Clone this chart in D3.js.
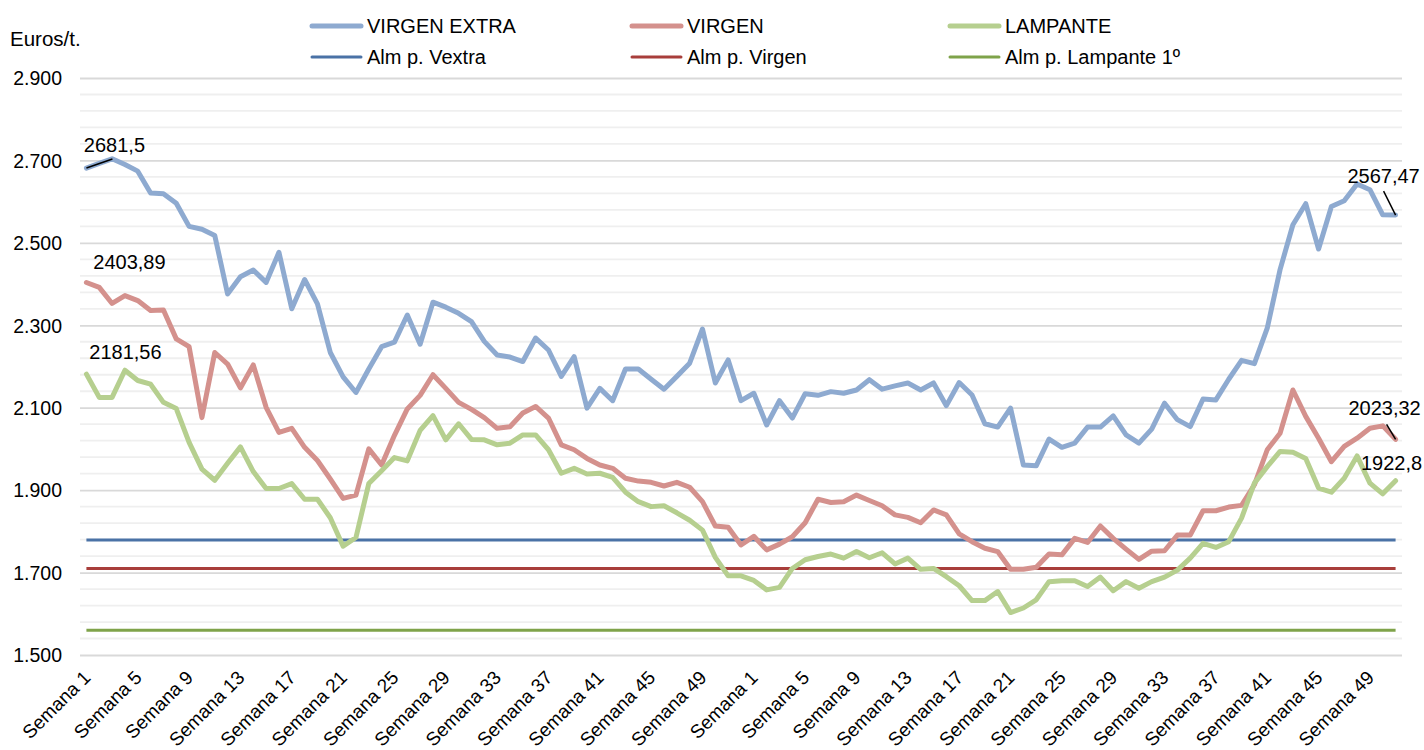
<!DOCTYPE html>
<html>
<head>
<meta charset="utf-8">
<script src="https://cdn.jsdelivr.net/npm/d3@7/dist/d3.min.js"></script>
<style>
  html, body { margin: 0; padding: 0; background: #fff; }
  svg { display: block; }
  text { font-family: "Liberation Sans", Arial, sans-serif; fill: #000; }
</style>
</head>
<body>
<svg id="chart" width="1424" height="750"></svg>
<script>
// ---- DATA ----
const weeksYear1 = d3.range(1, 53).map(w => "Semana " + w);
const weeksYear2 = d3.range(1, 52).map(w => "Semana " + w);
const categories = weeksYear1.concat(weeksYear2);

const virgenExtra = [2681.5,2693,2704,2690,2674,2621,2619,2596,2540,2533,2518,2376,2418,2434,2404,2477,2340,2411,2352,2234,2175,2137,2194,2248,2259,2325,2254,2356,2344,2329,2309,2261,2228,2223,2212,2269,2240,2176,2224,2099,2147,2117,2194,2194,2169,2145,2176,2208,2291,2160,2216,2117,
  2135,2058,2117,2075,2134,2130,2139,2135,2143,2168,2145,2153,2160,2143,2160,2105,2161,2131,2061,2053,2099,1961,1959,2024,2004,2014,2053,2053,2080,2034,2014,2048,2111,2071,2054,2121,2119,2169,2215,2207,2293,2435,2544,2595,2485,2588,2602,2643,2629,2568,2567.47];
const virgen = [2403.89,2392,2353,2372,2360,2336,2337,2267,2248,2076,2234,2206,2148,2204,2101,2040,2050,2004,1972,1927,1880,1888,2000,1961,2033,2097,2130,2180,2147,2113,2096,2076,2050,2054,2087,2103,2075,2010,1998,1977,1961,1953,1929,1922,1919,1910,1919,1907,1872,1813,1810,1767,
  1788,1755,1769,1787,1821,1878,1870,1872,1888,1875,1862,1840,1834,1821,1852,1840,1794,1775,1759,1751,1708,1708,1713,1745,1743,1783,1773,1813,1783,1757,1732,1752,1753,1791,1791,1850,1850,1859,1863,1913,1998,2038,2143,2079,2026,1969,2006,2026,2050,2056,2023.32];
const lampante = [2181.56,2125,2125,2191,2166,2157,2113,2098,2016,1951,1924,1965,2005,1945,1904,1904,1916,1878,1878,1833,1764,1785,1916,1947,1979,1971,2045,2081,2022,2061,2023,2022,2010,2014,2034,2034,1998,1941,1953,1939,1941,1931,1895,1872,1860,1862,1845,1827,1803,1737,1692,1692,
  1681,1658,1664,1710,1731,1739,1745,1735,1751,1736,1748,1721,1735,1708,1710,1690,1668,1632,1632,1654,1603,1614,1634,1678,1680,1680,1666,1689,1656,1678,1662,1678,1689,1706,1735,1771,1761,1775,1832,1917,1957,1994,1992,1977,1905,1895,1929,1983,1917,1891,1922.8];
const almVextra = categories.map(() => 1779);
const almVirgen = categories.map(() => 1710);
const almLampante = categories.map(() => 1560);

const seriesNames = ["VIRGEN EXTRA", "VIRGEN", "LAMPANTE", "Alm p. Vextra", "Alm p. Virgen", "Alm p. Lampante 1º"];
const yTicks = [1500, 1700, 1900, 2100, 2300, 2500, 2700, 2900];
const yAxisTitle = "Euros/t.";

// ---- CHART ----
const svg = d3.select("#chart");
const pL = 80, pR = 1402, pT = 78, pB = 655;

const x = d3.scalePoint().domain(d3.range(categories.length)).range([pL, pR]).padding(0.5);
const y = d3.scaleLinear().domain([1500, 2900]).range([pB, pT]);

// minor gridlines
const minor = d3.range(1500, 2901, 40).filter(v => (v - 1500) % 200 !== 0);
svg.append("g").selectAll("line").data(minor).join("line")
  .attr("x1", pL).attr("x2", pR)
  .attr("y1", d => y(d)).attr("y2", d => y(d))
  .attr("stroke", "#efefef").attr("stroke-width", 1.8);

// major gridlines via axis
const yAxis = svg.append("g").attr("transform", `translate(${pL},0)`)
  .call(d3.axisLeft(y).tickValues(yTicks).tickSize(-(pR - pL))
    .tickFormat(d => d3.format(",")(d).replace(",", ".")));
yAxis.select(".domain").remove();
yAxis.selectAll(".tick line").attr("stroke", "#d9d9d9").attr("stroke-width", 1.8);
yAxis.selectAll(".tick text").attr("x", -18).attr("font-size", 19.5).attr("dy", "0.35em");

// x axis
const xAxis = svg.append("g").attr("transform", `translate(0,${pB})`)
  .call(d3.axisBottom(x).tickValues(d3.range(0, categories.length, 4)).tickFormat(i => categories[i]).tickSize(0));
xAxis.select(".domain").remove();
xAxis.selectAll(".tick text")
  .attr("font-size", 19)
  .attr("text-anchor", "end")
  .attr("transform", "translate(0,19) rotate(-45)")
  .attr("dy", "0.35em").attr("dx", 0).attr("y", 0).attr("x", 0);

// y title
svg.append("text").attr("x", 10).attr("y", 46).attr("font-size", 20.5).text(yAxisTitle);

const line = d3.line().x((d, i) => x(i)).y(d => y(d));

const refs = [
  { data: almVextra, color: "#4a72a6" },
  { data: almVirgen, color: "#a83e3b" },
  { data: almLampante, color: "#7fa34a" }
];
refs.forEach(r => {
  svg.append("path").datum(r.data).attr("d", line)
    .attr("fill", "none").attr("stroke", r.color).attr("stroke-width", 3);
});

const series = [
  { data: virgenExtra, color: "#8eaad0" },
  { data: virgen, color: "#d4918d" },
  { data: lampante, color: "#b6cf8f" }
];
series.forEach(s => {
  svg.append("path").datum(s.data).attr("d", line)
    .attr("fill", "none").attr("stroke", s.color).attr("stroke-width", 5)
    .attr("stroke-linejoin", "round").attr("stroke-linecap", "round");
});

// data labels
const n = categories.length - 1;
const fmt = v => String(v).replace(".", ",");
const labels = [
  { i: 0, v: virgenExtra[0], dx: 28, dy: -16, leader: [26, -9] },
  { i: 0, v: virgen[0], dx: 43, dy: -13 },
  { i: 0, v: lampante[0], dx: 39, dy: -15 },
  { i: n, v: virgenExtra[n], dx: -12, dy: -32, leader: [-12, -24] },
  { i: n, v: virgen[n], dx: -11, dy: -24, leader: [-9, -15] },
  { i: n, v: lampante[n], dx: -4, dy: -11 }
];
labels.forEach(l => {
  const px = x(l.i), py = y(l.v);
  if (l.leader) {
    svg.append("line").attr("x1", px).attr("y1", py)
      .attr("x2", px + l.leader[0]).attr("y2", py + l.leader[1])
      .attr("stroke", "#000").attr("stroke-width", 1.5);
  }
  svg.append("text").attr("x", px + l.dx).attr("y", py + l.dy)
    .attr("text-anchor", "middle").attr("font-size", 20).text(fmt(l.v));
});

// legend
const legendItems = [
  { name: seriesNames[0], color: series[0].color, w: 5, x: 310, y: 26 },
  { name: seriesNames[1], color: series[1].color, w: 5, x: 630, y: 26 },
  { name: seriesNames[2], color: series[2].color, w: 5, x: 948, y: 26 },
  { name: seriesNames[3], color: refs[0].color, w: 3, x: 310, y: 57 },
  { name: seriesNames[4], color: refs[1].color, w: 3, x: 630, y: 57 },
  { name: seriesNames[5], color: refs[2].color, w: 3, x: 948, y: 57 }
];
const lg = svg.append("g");
legendItems.forEach(it => {
  lg.append("line").attr("x1", it.x + 2).attr("x2", it.x + 51)
    .attr("y1", it.y).attr("y2", it.y)
    .attr("stroke", it.color).attr("stroke-width", it.w).attr("stroke-linecap", "round");
  lg.append("text").attr("x", it.x + 57).attr("y", it.y).attr("dy", "0.35em")
    .attr("font-size", 20).text(it.name);
});
</script>
</body>
</html>
